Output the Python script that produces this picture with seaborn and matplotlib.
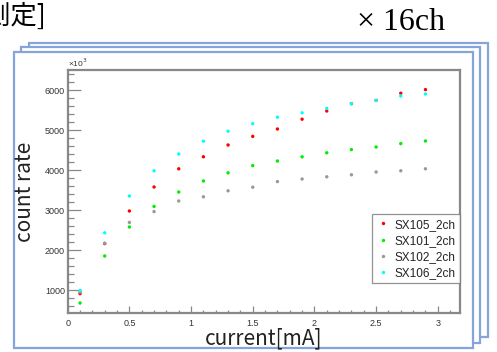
# count rate vs current for four SX modules, drawn like the slide

import matplotlib
matplotlib.use('Agg')
import matplotlib.pyplot as plt
from matplotlib.patches import Rectangle
from matplotlib.ticker import MultipleLocator
import pandas as pd
import seaborn as sns

# data
current = [0.1, 0.3, 0.5, 0.7, 0.9, 1.1, 1.3, 1.5, 1.7, 1.9, 2.1, 2.3, 2.5, 2.7, 2.9]
sx105 = [910, 2160, 2975, 3575, 4030, 4330, 4625, 4840, 5025, 5270, 5475, 5660, 5740, 5920, 6010]
sx101 = [675, 1850, 2575, 3090, 3450, 3725, 3930, 4110, 4225, 4330, 4430, 4510, 4575, 4660, 4725]
sx102 = [950, 2170, 2690, 2960, 3225, 3330, 3480, 3570, 3710, 3775, 3830, 3880, 3950, 3980, 4030]
sx106 = [990, 2430, 3350, 3980, 4400, 4720, 4970, 5160, 5320, 5430, 5540, 5660, 5740, 5850, 5900]
series = ['SX105_2ch', 'SX101_2ch', 'SX102_2ch', 'SX106_2ch']
colors = {'SX105_2ch': '#ff0000', 'SX101_2ch': '#00ee00',
          'SX102_2ch': '#999999', 'SX106_2ch': '#00ffff'}

df = pd.concat([pd.DataFrame({'current': current, 'rate': vals, 'name': name})
                for name, vals in zip(series, [sx105, sx101, sx102, sx106])])

sns.set_style('white')
plt.rcParams['font.family'] = ['Liberation Sans', 'DejaVu Sans']

fig = plt.figure(figsize=(4.97, 3.52), dpi=100)
W, H = 497, 352

# stacked slide frames (back to front), kept below the axes
frame_color = '#86a4dc'
for x0, y0, x1, y1 in [(29, 43, 488, 337), (21, 47, 480, 343), (14, 52, 473, 348)]:
    fig.patches.append(Rectangle((x0 / W, 1 - y1 / H), (x1 - x0) / W, (y1 - y0) / H,
                                 transform=fig.transFigure, facecolor='white',
                                 edgecolor=frame_color, linewidth=1.6, zorder=-10))

# slide texts
fig.text(-16 / W, 1 - 16 / H, '測定]', fontsize=19, va='center', ha='left', color='black',
         family=['Noto Sans CJK JP', 'DejaVu Sans'])
fig.text(357 / W, 1 - 22 / H, '× 16ch', fontsize=23, va='center', ha='left', color='black',
         family=['Liberation Serif', 'DejaVu Serif'])

ax = fig.add_axes([67.7 / W, 1 - 313 / H, (460 - 67.7) / W, (313 - 70) / H])
ax.set_facecolor('white')

sns.scatterplot(data=df, x='current', y='rate', hue='name', hue_order=series,
                palette=colors, marker='o', s=6, linewidth=0, ax=ax)

ax.set_xlim(0, 3.18)
ax.set_ylim(425, 6500)
ax.xaxis.set_major_locator(MultipleLocator(0.5))
ax.xaxis.set_minor_locator(MultipleLocator(0.1))
ax.yaxis.set_major_locator(MultipleLocator(1000))
ax.yaxis.set_minor_locator(MultipleLocator(200))
ax.set_xticks([0, 0.5, 1, 1.5, 2, 2.5, 3])
ax.set_xticklabels(['0', '0.5', '1', '1.5', '2', '2.5', '3'])

axis_gray = '#888888'
for side in ['top', 'right', 'left', 'bottom']:
    ax.spines[side].set_color(axis_gray)
    ax.spines[side].set_linewidth(1.6)
ax.tick_params(axis='y', which='major', direction='in', length=9, width=0.9,
               color=axis_gray, labelsize=6.5, labelcolor='#333333', pad=2,
               left=True, right=False)
ax.tick_params(axis='y', which='minor', direction='in', length=4.5, width=0.9,
               color=axis_gray, left=True, right=False)
ax.tick_params(axis='x', which='major', direction='in', length=5, width=0.9,
               color=axis_gray, labelsize=6.5, labelcolor='#333333', pad=4,
               bottom=True, top=False)
ax.tick_params(axis='x', which='minor', direction='in', length=2.5, width=0.9,
               color=axis_gray, bottom=True, top=False)

ax.text(0, 1.005, '×10$^3$', transform=ax.transAxes, fontsize=6, color='#333333',
        ha='left', va='bottom')

label_font = ['Noto Sans CJK JP', 'DejaVu Sans']
ax.set_xlabel('current[mA]', fontsize=15, family=label_font, color='#222222', labelpad=0)
ax.set_ylabel('count rate', fontsize=15, family=label_font, color='#222222', labelpad=6)

leg = ax.legend(loc='lower right', bbox_to_anchor=(1, 0.123), borderaxespad=0,
                frameon=True, fancybox=False, fontsize=8.5, markerscale=1.0,
                handletextpad=0.4, labelspacing=0.35, borderpad=0.35, handlelength=1.2)
leg.get_frame().set_edgecolor('#777777')
leg.get_frame().set_linewidth(0.9)
for t in leg.get_texts():
    t.set_color('#222222')

fig.savefig('out.png', dpi=100)
